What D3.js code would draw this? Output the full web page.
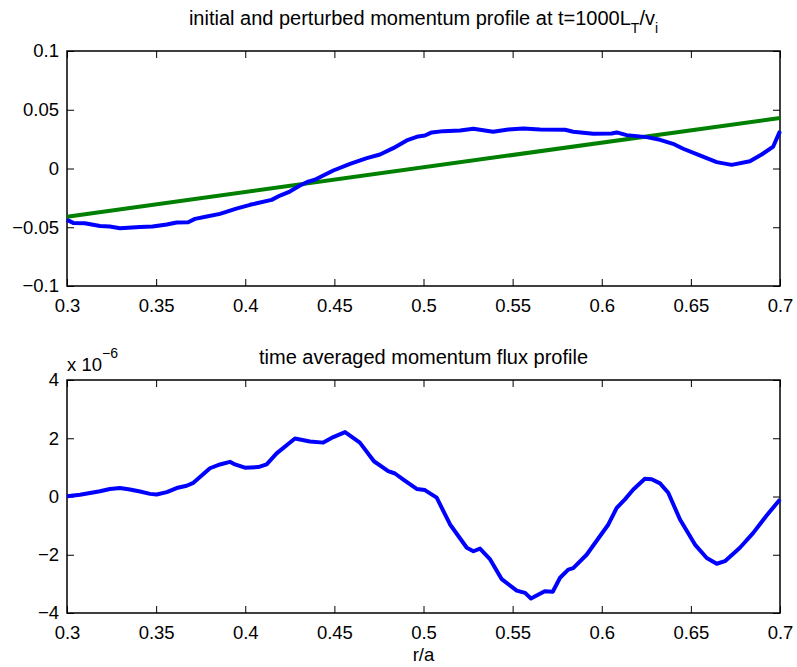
<!DOCTYPE html>
<html>
<head>
<meta charset="utf-8">
<script src="https://cdn.jsdelivr.net/npm/d3@7"></script>
<style>
  html, body { margin: 0; padding: 0; background: #fff; }
  svg text { font-family: "Liberation Sans", Arial, Helvetica, sans-serif; fill: #000; }
</style>
</head>
<body>
<div id="chart"></div>
<script>
// x ticks (r/a), shared by both panels
const xTicks = [0.3, 0.35, 0.4, 0.45, 0.5, 0.55, 0.6, 0.65, 0.7];
const topYTicks = [-0.1, -0.05, 0, 0.05, 0.1];
const botYTicks = [-4, -2, 0, 2, 4];

// top panel: perturbed momentum profile (blue)
const topR = [0.300, 0.3035, 0.310, 0.3185, 0.324, 0.3297, 0.341, 0.348, 0.356, 0.3615,
  0.368, 0.3718, 0.3784, 0.3858, 0.395, 0.4027, 0.4148, 0.4195, 0.425, 0.4307,
  0.4353, 0.439, 0.4494, 0.4588, 0.4682, 0.4756, 0.483, 0.4906, 0.497, 0.5008,
  0.5046, 0.5111, 0.5205, 0.528, 0.539, 0.5476, 0.556, 0.5654, 0.5794, 0.584,
  0.5952, 0.6055, 0.6084, 0.614, 0.6252, 0.6327, 0.640, 0.6457, 0.655, 0.6645,
  0.6729, 0.6831, 0.6897, 0.6962, 0.700];
const topBlue = [-0.0437, -0.0463, -0.0466, -0.049, -0.0494, -0.0508, -0.0497, -0.0494, -0.0477, -0.046,
  -0.0457, -0.0429, -0.0409, -0.0386, -0.0341, -0.0309, -0.0267, -0.023, -0.0196, -0.0145,
  -0.0112, -0.0096, -0.0017, 0.004, 0.0088, 0.0119, 0.0173, 0.0239, 0.0273, 0.0281,
  0.0307, 0.0318, 0.0324, 0.0338, 0.0313, 0.0332, 0.0341, 0.0332, 0.033, 0.0313,
  0.0296, 0.0298, 0.0307, 0.0284, 0.0267, 0.0244, 0.021, 0.0168, 0.0111, 0.0054,
  0.0031, 0.0062, 0.0119, 0.0187, 0.0318];

// top panel: initial profile (green, straight)
const greenR = [0.3, 0.7];
const greenV = [-0.041, 0.043];

// bottom panel: time averaged momentum flux (x 1e-6)
const botR = [0.300, 0.3073, 0.3185, 0.3241, 0.3297, 0.3353, 0.341, 0.3466, 0.3503, 0.356,
  0.3615, 0.3671, 0.3709, 0.3802, 0.3858, 0.3914, 0.3942, 0.3998, 0.4073, 0.412,
  0.4176, 0.4279, 0.4363, 0.4438, 0.4494, 0.456, 0.4643, 0.4722, 0.4802, 0.484,
  0.4887, 0.4962, 0.5008, 0.5074, 0.5149, 0.5243, 0.528, 0.5317, 0.5374, 0.5439,
  0.5523, 0.557, 0.5603, 0.568, 0.5725, 0.5766, 0.5812, 0.584, 0.5915, 0.6037,
  0.6084, 0.613, 0.6177, 0.6242, 0.628, 0.6327, 0.6373, 0.6439, 0.6523, 0.6589,
  0.6645, 0.6691, 0.6775, 0.685, 0.6925, 0.700];
const botV = [0.01, 0.06, 0.18, 0.26, 0.29, 0.24, 0.17, 0.09, 0.07, 0.15,
  0.29, 0.37, 0.47, 0.97, 1.10, 1.19, 1.10, 0.99, 1.01, 1.10,
  1.48, 1.99, 1.89, 1.85, 2.04, 2.21, 1.85, 1.21, 0.87, 0.79,
  0.58, 0.26, 0.22, -0.04, -0.96, -1.76, -1.88, -1.79, -2.16, -2.84,
  -3.23, -3.31, -3.50, -3.25, -3.27, -2.79, -2.51, -2.46, -2.0, -0.96,
  -0.39, -0.10, 0.24, 0.61, 0.59, 0.45, 0.13, -0.79, -1.65, -2.11,
  -2.31, -2.22, -1.76, -1.25, -0.65, -0.10];

const W = 797, H = 667;
const left = 67, right = 780;
const tickLen = 7;
const tickFont = "18.5px";
const fmt = d => String(d).replace("-", "\u2212");

const svg = d3.select("#chart").append("svg")
  .attr("width", W)
  .attr("height", H)
  .style("display", "block");

svg.append("rect").attr("width", W).attr("height", H).attr("fill", "#fff");

const x = d3.scaleLinear().domain([0.3, 0.7]).range([left, right]);

// draws one MATLAB-style boxed axes with inward ticks on all sides
function drawPanel(top, bottom, yDomain, yTicks) {
  const y = d3.scaleLinear().domain(yDomain).range([bottom, top]);
  const g = svg.append("g");

  g.append("g")
    .attr("transform", `translate(0,${bottom})`)
    .call(d3.axisBottom(x).tickValues(xTicks).tickSize(-tickLen).tickPadding(12.5).tickFormat(fmt))
    .call(a => a.select(".domain").remove());
  g.append("g")
    .attr("transform", `translate(0,${top})`)
    .call(d3.axisTop(x).tickValues(xTicks).tickSize(-tickLen).tickFormat(""))
    .call(a => a.select(".domain").remove());
  g.append("g")
    .attr("transform", `translate(${left},0)`)
    .call(d3.axisLeft(y).tickValues(yTicks).tickSize(-tickLen).tickPadding(8).tickFormat(fmt))
    .call(a => a.select(".domain").remove());
  g.append("g")
    .attr("transform", `translate(${right},0)`)
    .call(d3.axisRight(y).tickValues(yTicks).tickSize(-tickLen).tickFormat(""))
    .call(a => a.select(".domain").remove());

  g.selectAll(".tick line").attr("stroke", "#000").attr("stroke-width", 1);
  g.selectAll(".tick text").style("font-size", tickFont).attr("fill", "#000");

  g.append("rect")
    .attr("x", left).attr("y", top)
    .attr("width", right - left).attr("height", bottom - top)
    .attr("fill", "none").attr("stroke", "#000").attr("stroke-width", 1.5);
  return { g, y };
}

// ---- top panel
const p1 = drawPanel(51, 286, [-0.1, 0.1], topYTicks);

const lineTop = d3.line().x(d => x(d[0])).y(d => p1.y(d[1]));
p1.g.append("path")
  .datum(d3.zip(greenR, greenV))
  .attr("d", lineTop)
  .attr("fill", "none").attr("stroke", "#008000").attr("stroke-width", 4);
p1.g.append("path")
  .datum(d3.zip(topR, topBlue))
  .attr("d", lineTop)
  .attr("fill", "none").attr("stroke", "#0000ff").attr("stroke-width", 4)
  .attr("stroke-linejoin", "round");

const t1 = svg.append("text")
  .attr("x", (left + right) / 2).attr("y", 25)
  .attr("text-anchor", "middle")
  .style("font-size", "20px");
t1.append("tspan").text("initial and perturbed momentum profile at t=1000L");
t1.append("tspan").attr("dy", 8).style("font-size", "14px").text("T");
t1.append("tspan").attr("dy", -8).text("/v");
t1.append("tspan").attr("dy", 8).style("font-size", "14px").text("i");

// ---- bottom panel
const p2 = drawPanel(380, 613, [-4, 4], botYTicks);

const lineBot = d3.line().x(d => x(d[0])).y(d => p2.y(d[1]));
p2.g.append("path")
  .datum(d3.zip(botR, botV))
  .attr("d", lineBot)
  .attr("fill", "none").attr("stroke", "#0000ff").attr("stroke-width", 4)
  .attr("stroke-linejoin", "round");

svg.append("text")
  .attr("x", (left + right) / 2).attr("y", 364)
  .attr("text-anchor", "middle")
  .style("font-size", "20px")
  .text("time averaged momentum flux profile");

const ex = svg.append("text")
  .attr("x", 67).attr("y", 371)
  .style("font-size", "18.5px");
ex.append("tspan").text("x 10");
ex.append("tspan").attr("dy", -13).style("font-size", "14px").text("\u22126");

svg.append("text")
  .attr("x", (left + right) / 2).attr("y", 661)
  .attr("text-anchor", "middle")
  .style("font-size", "18.5px")
  .text("r/a");
</script>
</body>
</html>
